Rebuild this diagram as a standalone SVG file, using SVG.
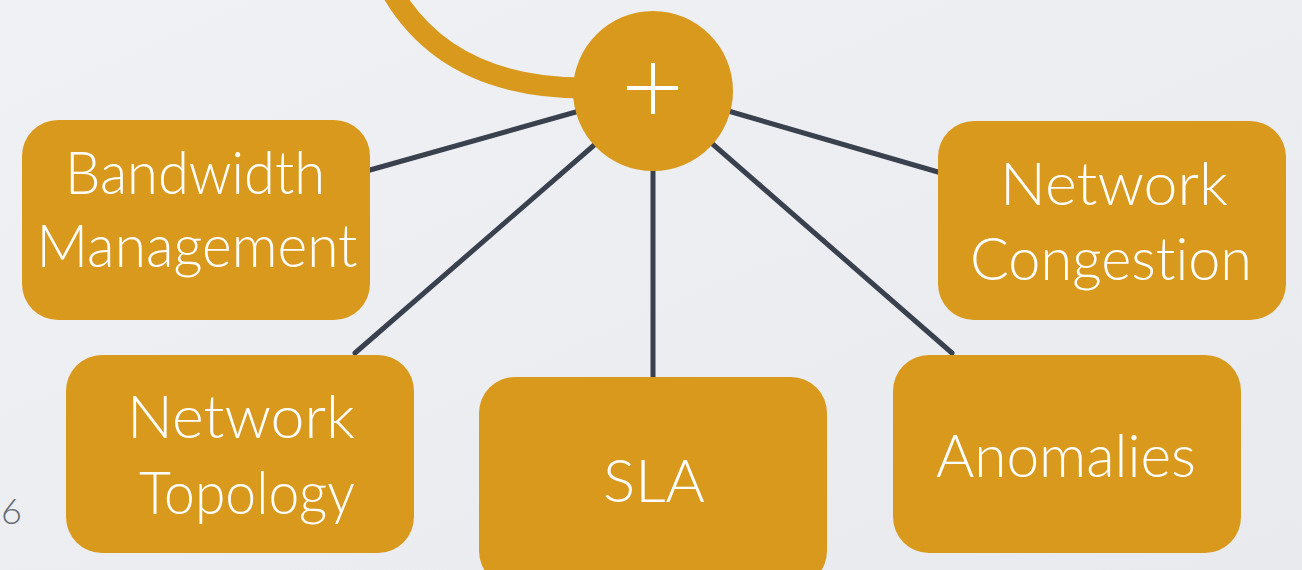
<svg xmlns="http://www.w3.org/2000/svg" width="1302" height="570" viewBox="0 0 1302 570">
<defs>
<linearGradient id="bg" x1="0" y1="0" x2="1" y2="1">
<stop offset="0" stop-color="#f0f1f4"/>
<stop offset="1" stop-color="#e8eaee"/>
</linearGradient>
</defs>
<style>
.box{fill:#d8991c;}
.lbl{fill:#ffffff;font-family:"Gill Sans","Lato","Open Sans","Liberation Sans",sans-serif;font-weight:300;font-size:60px;text-anchor:middle;font-variant-ligatures:none;}
.conn{stroke:#3a414e;stroke-width:5;stroke-linecap:round;fill:none;}
</style>
<rect x="0" y="0" width="1302" height="570" fill="url(#bg)"/>
<text x="1" y="524" font-family="Lato, 'Liberation Sans', sans-serif" font-weight="300" font-size="36" fill="#666a72">6</text>
<g id="connectors">
<line class="conn" x1="370" y1="170" x2="590" y2="108"/>
<line class="conn" x1="355" y1="353" x2="600" y2="140"/>
<line class="conn" x1="653" y1="160" x2="653" y2="378"/>
<line class="conn" x1="708" y1="140" x2="952" y2="353"/>
<line class="conn" x1="718" y1="108" x2="938" y2="172"/>
<path d="M 392,-8 Q 448,88 585,88" stroke="#d8991c" stroke-width="21" fill="none"/>
</g>
<g id="hub">
<circle cx="653" cy="91" r="80" class="box"/>
<line x1="627" y1="88" x2="678" y2="88" stroke="#ffffff" stroke-width="4"/>
<line x1="653" y1="63" x2="653" y2="114" stroke="#ffffff" stroke-width="4"/>
</g>
<g id="bandwidth">
<rect class="box" x="22" y="120" width="348" height="200" rx="36"/>
<text class="lbl" x="195" y="194" textLength="260" lengthAdjust="spacingAndGlyphs">Bandwidth</text>
<text class="lbl" x="197" y="267" textLength="321" lengthAdjust="spacingAndGlyphs">Management</text>
</g>
<g id="congestion">
<rect class="box" x="938" y="121" width="348" height="199" rx="36"/>
<text class="lbl" x="1114" y="205" textLength="228" lengthAdjust="spacingAndGlyphs">Network</text>
<text class="lbl" x="1111" y="280" textLength="282" lengthAdjust="spacingAndGlyphs">Congestion</text>
</g>
<g id="topology">
<rect class="box" x="66" y="355" width="348" height="198" rx="36"/>
<text class="lbl" x="241" y="438" textLength="228" lengthAdjust="spacingAndGlyphs">Network</text>
<text class="lbl" x="247" y="514" textLength="216" lengthAdjust="spacingAndGlyphs">Topology</text>
</g>
<g id="sla">
<rect class="box" x="479" y="377" width="348" height="210" rx="36"/>
<text class="lbl" x="654" y="502" textLength="102" lengthAdjust="spacingAndGlyphs">SLA</text>
</g>
<g id="anomalies">
<rect class="box" x="893" y="355" width="348" height="198" rx="36"/>
<text class="lbl" x="1066" y="477" textLength="260" lengthAdjust="spacingAndGlyphs">Anomalies</text>
</g>
</svg>
